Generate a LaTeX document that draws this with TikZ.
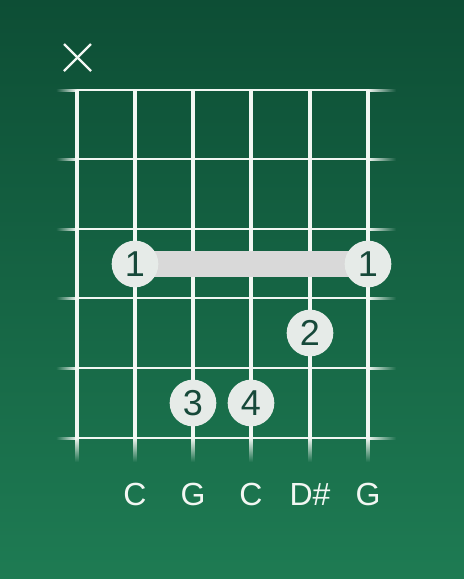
\documentclass[tikz,border=0pt]{standalone}
\usepackage{fontspec}
\setmainfont{Liberation Sans}
\usetikzlibrary{fadings}
\definecolor{bgtop}{HTML}{0D4E35}
\definecolor{bgbot}{HTML}{1E7B53}
\definecolor{dotfill}{HTML}{E6EBE8}
\definecolor{dottext}{HTML}{17493A}
\definecolor{barrefill}{HTML}{D9D9D9}
\definecolor{linecol}{HTML}{F2F7F3}
\tikzset{
  fretline/.style={draw=linecol, line width=2.2pt},
  stringline/.style={draw=linecol, line width=3pt},
  finger/.style={circle, fill=dotfill, minimum size=35pt, inner sep=0pt, text=dottext, font=\fontsize{27}{27}\selectfont},
  notelabel/.style={text=linecol, font=\fontsize{24}{24}\selectfont, anchor=base},
  mutemark/.style={draw=linecol, line width=1.8pt}
}
\begin{document}
\begin{tikzpicture}[x=0.75pt,y=-0.75pt]
\shade[shading angle=155, top color=bgtop, bottom color=bgbot] (0,0) rectangle (464,579);
\useasboundingbox (0,0) rectangle (464,579);
% frets
\foreach \y/\n in {90/0,159/1,229/2,298/3,368/4,438/5}{
  \coordinate (fl\n) at (77,\y);
  \coordinate (fr\n) at (368,\y);
  \draw[fretline] (fl\n) -- (fr\n);
  \fill[linecol, path fading=west] (56,\y-1.5) rectangle (77,\y+1.5);
  \fill[linecol, path fading=east] (368,\y-1.5) rectangle (396,\y+1.5);
}
% strings
\foreach \x/\n in {77/1,135/2,193/3,251/4,310/5,368/6}{
  \coordinate (st\n) at (\x,90);
  \coordinate (sb\n) at (\x,438);
  \draw[stringline] (st\n) -- (sb\n);
  \fill[linecol, path fading=south] (\x-2,438) rectangle (\x+2,462);
}
% mute mark
\coordinate (xa) at (64,44);
\coordinate (xb) at (91,71);
\coordinate (xc) at (64,71);
\coordinate (xd) at (91,44);
\draw[mutemark] (xa) -- (xb);
\draw[mutemark] (xc) -- (xd);
% barre
\coordinate (bl) at (135,264);
\coordinate (br) at (368,264);
\draw[barrefill, line width=19.5pt] (bl) -- (br);
\node[finger] (f1a) at (bl) {1};
\node[finger] (f1b) at (br) {1};
\node[finger] (f2) at (310,333) {2};
\node[finger] (f3) at (193,403) {3};
\node[finger] (f4) at (251,403) {4};
% note labels
\node[notelabel] (n2) at (135,505) {C};
\node[notelabel] (n3) at (193,505) {G};
\node[notelabel] (n4) at (251,505) {C};
\node[notelabel] (n5) at (310,505) {D\#};
\node[notelabel] (n6) at (368,505) {G};
\end{tikzpicture}
\end{document}
